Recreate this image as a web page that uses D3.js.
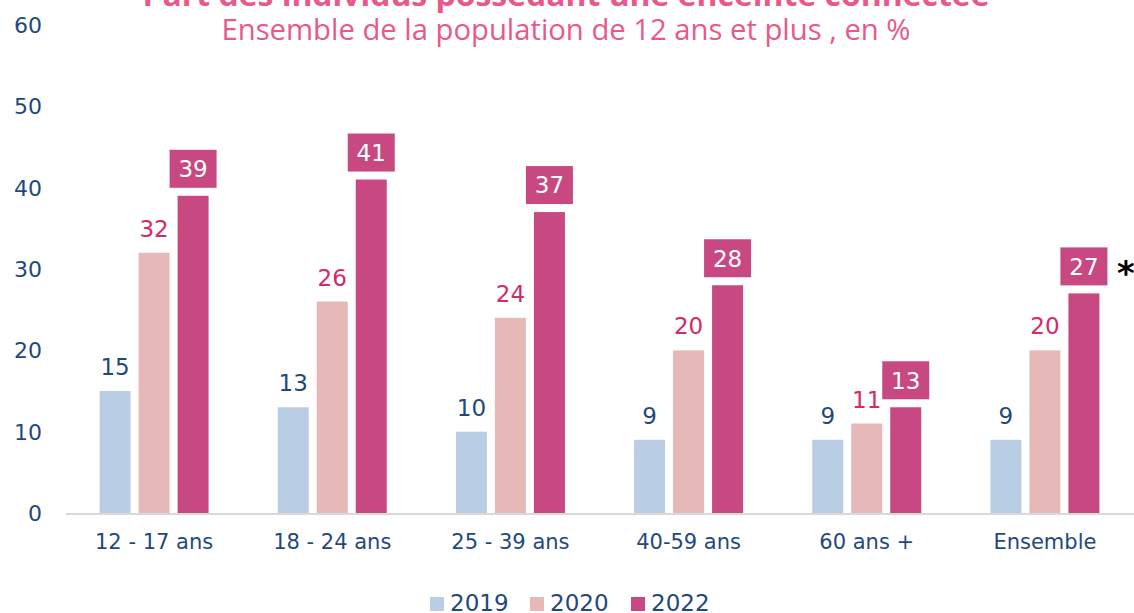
<!DOCTYPE html>
<html>
<head>
<meta charset="utf-8">
<script src="https://cdn.jsdelivr.net/npm/d3@7"></script>
<style>
  body { margin: 0; background: #fff; }
  svg { display: block; }
</style>
</head>
<body>
<div id="chart"></div>
<script>
const categories = ["12 - 17 ans", "18 - 24 ans", "25 - 39 ans", "40-59 ans", "60 ans +", "Ensemble"];
const years = ["2019", "2020", "2022"];
const v2019 = [15, 13, 10, 9, 9, 9];
const v2020 = [32, 26, 24, 20, 11, 20];
const v2022 = [39, 41, 37, 28, 13, 27];
const yTicks = [0, 10, 20, 30, 40, 50, 60];

const width = 1134, height = 613;
const font = "'DejaVu Sans', Verdana, sans-serif";
const blue = "#1f497d";
const cols = { "2019": "#b9cde5", "2020": "#e6b9b8", "2022": "#c84882" };

const data = categories.map((c, i) => ({
  cat: c,
  vals: [
    { year: "2019", v: v2019[i] },
    { year: "2020", v: v2020[i] },
    { year: "2022", v: v2022[i] }
  ]
}));

const svg = d3.select("#chart").append("svg")
  .attr("width", width)
  .attr("height", height);

const x0 = d3.scaleBand().domain(categories).range([65, 1134]);
const x1 = d3.scaleBand().domain(years).range([0, 109]).paddingInner(8 / 39);
const y = d3.scaleLinear().domain([0, 60]).range([513, 25]);

// titles
svg.append("text")
  .attr("x", 566).attr("y", 6)
  .attr("text-anchor", "middle")
  .attr("font-family", "'Open Sans', sans-serif")
  .attr("font-weight", "bold")
  .attr("font-size", 30)
  .attr("fill", "#e8598b")
  .attr("textLength", 847)
  .attr("lengthAdjust", "spacingAndGlyphs")
  .text("Part des individus possédant une enceinte connectée");

svg.append("text")
  .attr("x", 566).attr("y", 40)
  .attr("text-anchor", "middle")
  .attr("font-family", "'Open Sans', sans-serif")
  .attr("font-size", 29)
  .attr("fill", "#e8598b")
  .attr("textLength", 689)
  .attr("lengthAdjust", "spacingAndGlyphs")
  .text("Ensemble de la population de 12 ans et plus , en %");

// y ticks (no gridlines)
svg.append("g")
  .selectAll("text")
  .data(yTicks)
  .join("text")
  .attr("x", 42)
  .attr("y", d => y(d))
  .attr("dy", "0.36em")
  .attr("text-anchor", "end")
  .attr("font-family", font)
  .attr("font-size", 22)
  .attr("fill", blue)
  .text(d => d);

// bars
const groups = svg.append("g")
  .selectAll("g")
  .data(data)
  .join("g")
  .attr("transform", d => `translate(${x0(d.cat) + x0.bandwidth() / 2 - 54.5},0)`);

groups.selectAll("rect")
  .data(d => d.vals)
  .join("rect")
  .attr("x", d => x1(d.year))
  .attr("y", d => y(d.v))
  .attr("width", x1.bandwidth())
  .attr("height", d => y(0) - y(d.v))
  .attr("fill", d => cols[d.year]);

// labels 2019 / 2020
groups.selectAll("text.lab")
  .data(d => d.vals.filter(e => e.year != "2022"))
  .join("text")
  .attr("class", "lab")
  .attr("x", d => x1(d.year) + x1.bandwidth() / 2)
  .attr("y", d => y(d.v) - 16)
  .attr("text-anchor", "middle")
  .attr("font-family", font)
  .attr("font-size", 23)
  .attr("fill", d => d.year == "2019" ? blue : "#d42a66")
  .text(d => d.v);

// labels 2022 in boxes
const boxes = groups.selectAll("g.box")
  .data(d => d.vals.filter(e => e.year == "2022"))
  .join("g")
  .attr("class", "box")
  .attr("transform", d => `translate(${x1(d.year) + x1.bandwidth() / 2},${y(d.v) - 8})`);

boxes.append("rect")
  .attr("x", -23.5).attr("y", -38)
  .attr("width", 47).attr("height", 38)
  .attr("fill", cols["2022"]);

boxes.append("text")
  .attr("y", -19)
  .attr("dy", "0.36em")
  .attr("text-anchor", "middle")
  .attr("font-family", font)
  .attr("font-size", 23)
  .attr("fill", "#fff")
  .text(d => d.v);

// asterisk next to Ensemble
svg.append("text")
  .attr("x", x0("Ensemble") + x0.bandwidth() / 2 + 81)
  .attr("y", y(27) - 8)
  .attr("text-anchor", "middle")
  .attr("font-family", font)
  .attr("font-weight", "bold")
  .attr("font-size", 34)
  .attr("fill", "#000")
  .text("*");

// x axis
svg.append("line")
  .attr("x1", 66).attr("x2", 1134)
  .attr("y1", y(0) + 1).attr("y2", y(0) + 1)
  .attr("stroke", "#d9d9d9")
  .attr("stroke-width", 2);

svg.append("g")
  .selectAll("text")
  .data(categories)
  .join("text")
  .attr("x", d => x0(d) + x0.bandwidth() / 2)
  .attr("y", 549)
  .attr("text-anchor", "middle")
  .attr("font-family", font)
  .attr("font-size", 21)
  .attr("fill", blue)
  .text(d => d);

// legend
const legX = [430, 530, 631];
const leg = svg.append("g")
  .selectAll("g")
  .data(years)
  .join("g")
  .attr("transform", (d, i) => `translate(${legX[i]},597)`);

leg.append("rect")
  .attr("width", 14).attr("height", 14)
  .attr("fill", d => cols[d]);

leg.append("text")
  .attr("x", 20).attr("y", 14)
  .attr("font-family", font)
  .attr("font-size", 23)
  .attr("fill", blue)
  .text(d => d);
</script>
</body>
</html>
